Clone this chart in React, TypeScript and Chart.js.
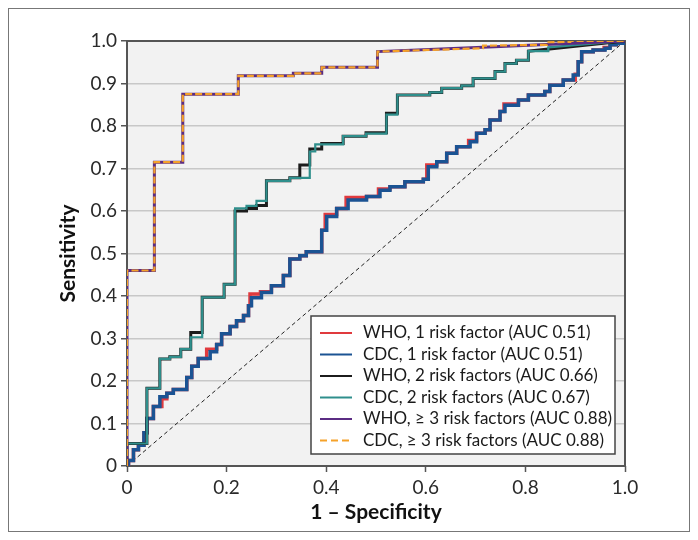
import React, { useEffect, useRef } from 'react';
import { Chart, registerables } from 'chart.js';
Chart.register(...registerables);

const FONT = "Lato, 'Open Sans', sans-serif";

// ROC curves as staircases: x where sensitivity rises, sensitivity after the rise
const who1X = [0.003, 0.013, 0.023, 0.034, 0.04, 0.053, 0.07, 0.08, 0.093, 0.12, 0.13, 0.143, 0.16, 0.18, 0.19, 0.207, 0.22, 0.234, 0.244, 0.247, 0.268, 0.29, 0.314, 0.327, 0.347, 0.36, 0.391, 0.398, 0.421, 0.44, 0.481, 0.505, 0.528, 0.558, 0.595, 0.602, 0.622, 0.642, 0.662, 0.686, 0.702, 0.719, 0.729, 0.749, 0.757, 0.786, 0.806, 0.839, 0.849, 0.876, 0.9, 0.906, 0.913, 0.936, 0.958, 0.97, 0.983, 1.0];
const who1Y = [0.013, 0.038, 0.049, 0.078, 0.112, 0.14, 0.158, 0.171, 0.18, 0.208, 0.235, 0.253, 0.275, 0.286, 0.311, 0.328, 0.342, 0.354, 0.377, 0.405, 0.41, 0.424, 0.448, 0.487, 0.495, 0.504, 0.555, 0.592, 0.606, 0.632, 0.634, 0.652, 0.657, 0.669, 0.675, 0.708, 0.716, 0.736, 0.751, 0.766, 0.783, 0.791, 0.814, 0.834, 0.852, 0.861, 0.873, 0.881, 0.896, 0.908, 0.922, 0.951, 0.975, 0.979, 0.985, 0.991, 0.995, 1.0];

const cdc1X = [0.003, 0.013, 0.023, 0.034, 0.04, 0.053, 0.066, 0.08, 0.093, 0.12, 0.13, 0.143, 0.167, 0.18, 0.19, 0.207, 0.22, 0.234, 0.244, 0.25, 0.27, 0.29, 0.314, 0.327, 0.347, 0.36, 0.391, 0.401, 0.421, 0.444, 0.481, 0.508, 0.528, 0.558, 0.595, 0.605, 0.622, 0.642, 0.662, 0.689, 0.702, 0.719, 0.729, 0.749, 0.759, 0.786, 0.806, 0.839, 0.849, 0.876, 0.896, 0.906, 0.913, 0.936, 0.96, 0.97, 0.983, 1.0];
const cdc1Y = [0.013, 0.038, 0.049, 0.078, 0.112, 0.14, 0.163, 0.171, 0.18, 0.208, 0.235, 0.253, 0.269, 0.286, 0.311, 0.328, 0.342, 0.354, 0.377, 0.396, 0.408, 0.424, 0.448, 0.487, 0.495, 0.504, 0.555, 0.587, 0.606, 0.626, 0.634, 0.649, 0.657, 0.669, 0.675, 0.704, 0.716, 0.736, 0.751, 0.763, 0.783, 0.791, 0.814, 0.834, 0.849, 0.861, 0.873, 0.881, 0.896, 0.908, 0.92, 0.951, 0.975, 0.979, 0.983, 0.991, 0.995, 1.0];

const who2X = [0, 0.04, 0.066, 0.086, 0.108, 0.128, 0.151, 0.195, 0.217, 0.24, 0.26, 0.28, 0.327, 0.347, 0.367, 0.391, 0.434, 0.48, 0.521, 0.543, 0.608, 0.632, 0.672, 0.695, 0.739, 0.759, 0.782, 0.806];
const who2Y = [0.053, 0.183, 0.252, 0.257, 0.275, 0.314, 0.397, 0.4275, 0.6, 0.606, 0.613, 0.671, 0.678, 0.708, 0.746, 0.759, 0.776, 0.784, 0.83, 0.873, 0.879, 0.889, 0.895, 0.912, 0.928, 0.947, 0.955, 0.976];
const who2Tail = [[1, 1]];

const cdc2X = [0, 0.04, 0.066, 0.086, 0.108, 0.128, 0.151, 0.195, 0.217, 0.24, 0.26, 0.28, 0.327, 0.367, 0.378, 0.434, 0.48, 0.521, 0.543, 0.608, 0.632, 0.672, 0.695, 0.739, 0.759, 0.782, 0.806, 0.846];
const cdc2Y = [0.053, 0.183, 0.252, 0.257, 0.275, 0.303, 0.397, 0.4275, 0.606, 0.612, 0.624, 0.671, 0.678, 0.74, 0.757, 0.776, 0.782, 0.827, 0.873, 0.879, 0.889, 0.895, 0.912, 0.928, 0.947, 0.955, 0.976, 0.985];
const cdc2Tail = [[1, 1]];

const who3X = [0, 0.055, 0.112, 0.2235, 0.334, 0.391, 0.503];
const who3Y = [0.46, 0.715, 0.875, 0.918, 0.924, 0.938, 0.975];
const who3Tail = [[0.75, 0.987], [1, 1]];

const cdc3X = [0, 0.055, 0.112, 0.2235, 0.334, 0.391, 0.503];
const cdc3Y = [0.46, 0.715, 0.875, 0.918, 0.924, 0.938, 0.975];
const cdc3Tail = [[0.715, 0.983], [0.715, 0.989], [0.843, 0.991], [0.843, 0.997], [0.89, 0.998], [0.89, 1.0], [1, 1]];

const refLine = [[0, 0], [1, 1]];

const labels = [
  'WHO, 1 risk factor (AUC 0.51)',
  'CDC, 1 risk factor (AUC 0.51)',
  'WHO, 2 risk factors (AUC 0.66)',
  'CDC, 2 risk factors (AUC 0.67)',
  'WHO, \u2265 3 risk factors (AUC 0.88)',
  'CDC, \u2265 3 risk factors (AUC 0.88)',
];
const colors = ['#e03a3e', '#1b5393', '#1c1c1c', '#2f8f8c', '#5b2c83', '#f5a22a'];

function stairs(xs: number[], ys: number[], tail: number[][] = []) {
  const pts: { x: number; y: number }[] = [{ x: 0, y: 0 }];
  let prev = 0;
  xs.forEach((x, i) => {
    pts.push({ x, y: prev });
    pts.push({ x, y: ys[i] });
    prev = ys[i];
  });
  tail.forEach(([x, y]) => pts.push({ x, y }));
  return pts;
}

const bgPlugin = {
  id: 'bg',
  beforeDraw(chart: any) {
    const { ctx, chartArea: a } = chart;
    ctx.save();
    ctx.fillStyle = '#f2f2f2';
    ctx.fillRect(a.left, a.top, a.right - a.left, a.bottom - a.top);
    ctx.restore();
  },
  beforeDatasetsDraw(chart: any) {
    const { ctx, chartArea: a } = chart;
    ctx.save();
    ctx.strokeStyle = '#555';
    ctx.lineWidth = 2;
    ctx.strokeRect(a.left, a.top, a.right - a.left, a.bottom - a.top);
    ctx.restore();
  },
};

const legendPlugin = {
  id: 'boxLegend',
  afterDraw(chart: any) {
    const { ctx, chartArea: a } = chart;
    const bx = a.left + 184;
    const by = a.top + 275;
    const bw = 304;
    const bh = 138;
    ctx.save();
    ctx.fillStyle = '#ffffff';
    ctx.fillRect(bx, by, bw, bh);
    ctx.strokeStyle = '#444';
    ctx.lineWidth = 1.5;
    ctx.strokeRect(bx, by, bw, bh);
    ctx.font = `17px ${FONT}`;
    ctx.textBaseline = 'middle';
    ctx.textAlign = 'left';
    labels.forEach((lab, i) => {
      const yy = by + 17 + i * 21.5;
      ctx.beginPath();
      ctx.strokeStyle = colors[i];
      ctx.lineWidth = 2;
      ctx.setLineDash(i === 5 ? [7, 4] : []);
      ctx.moveTo(bx + 9, yy);
      ctx.lineTo(bx + 41, yy);
      ctx.stroke();
      ctx.setLineDash([]);
      ctx.fillStyle = '#1a1a1a';
      ctx.fillText(lab, bx + 52, yy);
    });
    ctx.restore();
  },
};

export default function App() {
  const ref = useRef<HTMLCanvasElement>(null);
  useEffect(() => {
    if (!ref.current) return;
    const line = (label: string, data: any, color: string, width: number, order: number, dash: number[] = []) => ({
      label,
      data,
      borderColor: color,
      backgroundColor: color,
      borderWidth: width,
      borderDash: dash,
      pointRadius: 0,
      fill: false,
      tension: 0,
      order,
    });
    const chart = new Chart(ref.current, {
      type: 'line',
      data: {
        datasets: [
          line('ref', refLine.map(([x, y]) => ({ x, y })), '#222', 1, 10, [4, 3]),
          line(labels[0], stairs(who1X, who1Y), colors[0], 3.5, 9),
          line(labels[1], stairs(cdc1X, cdc1Y), colors[1], 3.5, 8),
          line(labels[2], stairs(who2X, who2Y, who2Tail), colors[2], 3, 7),
          line(labels[3], stairs(cdc2X, cdc2Y, cdc2Tail), colors[3], 2.2, 6),
          line(labels[4], stairs(who3X, who3Y, who3Tail), colors[4], 3, 5),
          line(labels[5], stairs(cdc3X, cdc3Y, cdc3Tail), colors[5], 2.2, 4, [7, 3]),
        ],
      },
      options: {
        animation: false,
        responsive: false,
        maintainAspectRatio: false,
        layout: { padding: { top: 32, right: 64, left: 0, bottom: 0 } },
        plugins: { legend: { display: false }, tooltip: { enabled: false } },
        scales: {
          x: {
            type: 'linear',
            min: 0,
            max: 1,
            afterFit: (s: any) => { s.height = 65; },
            ticks: {
              stepSize: 0.2,
              maxRotation: 0,
              padding: 4,
              color: '#2a2a2a',
              font: { family: FONT, size: 19 },
              callback: (v: any) => (Number(v) === 0 ? '0' : Number(v).toFixed(1)),
            },
            grid: { drawOnChartArea: false, drawTicks: true, tickLength: 6, tickColor: '#555', tickWidth: 1.5 },
            border: { display: false },
            title: {
              display: true,
              text: '1 \u2013 Specificity',
              color: '#111',
              font: { family: FONT, size: 21, weight: 'bold' },
              padding: { top: 0, bottom: 6 },
            },
          },
          y: {
            type: 'linear',
            min: 0,
            max: 1,
            afterFit: (s: any) => { s.width = 118; },
            ticks: {
              stepSize: 0.1,
              padding: 4,
              color: '#2a2a2a',
              font: { family: FONT, size: 19 },
              callback: (v: any) => (Number(v) === 0 ? '0' : Number(v).toFixed(1)),
            },
            grid: { color: '#c8c8c8', lineWidth: 1.5, drawTicks: true, tickLength: 6, tickColor: '#555', tickWidth: 1.5 },
            border: { display: false },
            title: {
              display: true,
              text: 'Sensitivity',
              color: '#111',
              font: { family: FONT, size: 21, weight: 'bold' },
              padding: { top: 47, bottom: 0 },
            },
          },
        },
      },
      plugins: [bgPlugin, legendPlugin],
    } as any);
    return () => chart.destroy();
  }, []);
  return (
    <div style={{ width: 682, height: 524, border: '1px solid #777', boxSizing: 'border-box', background: '#fff' }}>
      <canvas ref={ref} width={680} height={522} style={{ display: 'block' }} />
    </div>
  );
}
